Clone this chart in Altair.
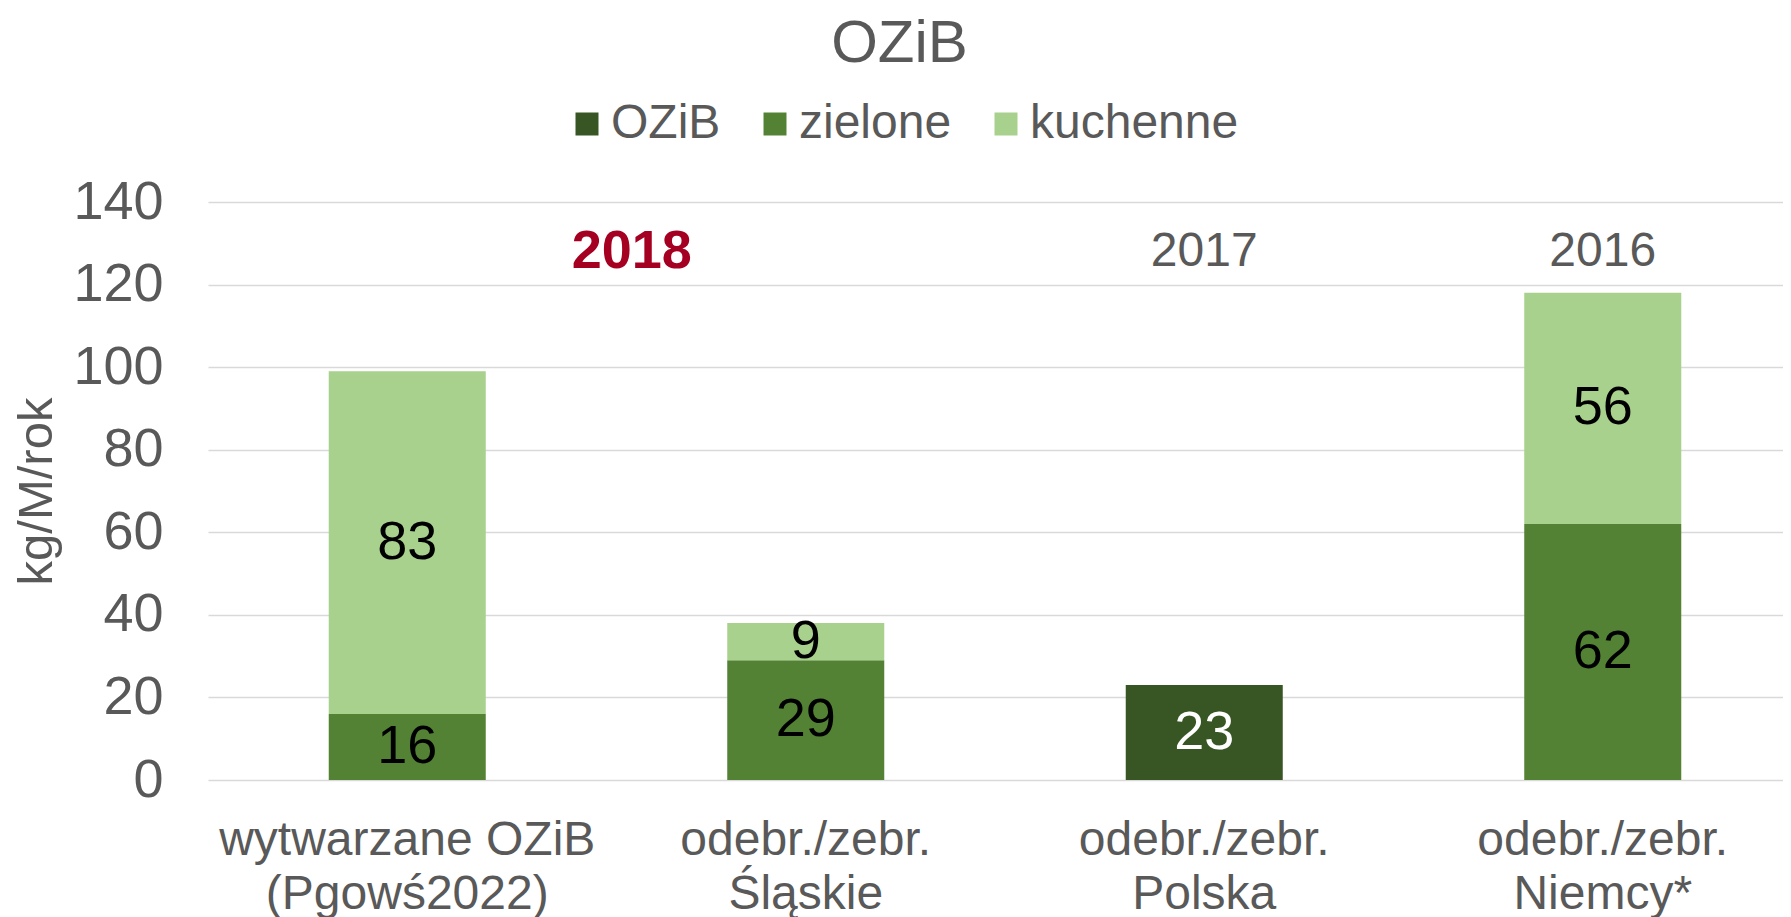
import altair as alt
import pandas as pd

FONT = "Liberation Sans"
GRAY = "#595959"

categories = ["wytwarzane OZiB\n(Pgowś2022)", "odebr./zebr.\nŚląskie",
              "odebr./zebr.\nPolska", "odebr./zebr.\nNiemcy*"]
series_names = ["OZiB", "zielone", "kuchenne"]
series_colors = ["#375623", "#548235", "#A9D18E"]
stack_order = [0, 1, 2]
ozib_vals = [None, None, 23, None]
zielone_vals = [16, 29, None, 62]
kuchenne_vals = [83, 9, None, 56]

year_main = ["2018"]
year_main_cat = [categories[1]]
year_other = ["2017", "2016"]
year_other_cat = [categories[2], categories[3]]
year_level = 128

y_ticks = [0, 20, 40, 60, 80, 100, 120, 140]

rows = []
for s, vals, o in zip(series_names, [ozib_vals, zielone_vals, kuchenne_vals], stack_order):
    for c, v in zip(categories, vals):
        if v is not None:
            rows.append({"category": c, "series": s, "value": v, "ord": o})
df = pd.DataFrame(rows)

df_main = pd.DataFrame({"category": year_main_cat, "label": year_main, "y": [year_level] * len(year_main)})
df_other = pd.DataFrame({"category": year_other_cat, "label": year_other, "y": [year_level] * len(year_other)})

x_enc = alt.X("category:N", sort=categories,
              scale=alt.Scale(range=[0, 1594], paddingInner=0.606, paddingOuter=0.303),
              axis=alt.Axis(title=None, labelExpr="split(datum.label, '\\n')", labelAngle=0,
                            labelFontSize=48, labelColor=GRAY, labelFont=FONT, ticks=False,
                            domain=False, labelPadding=36, labelLineHeight=54, labelLimit=0,
                            labelBaseline="top"))

y_scale = alt.Scale(domain=[0, 140], nice=False)

base = alt.Chart(df).transform_stack(
    stack="value", groupby=["category"], as_=["v0", "v1"], sort=[alt.SortField("ord")]
).transform_calculate(mid="(datum.v0 + datum.v1) / 2")

bars = base.mark_bar().encode(
    x=x_enc,
    y=alt.Y("v0:Q", scale=y_scale,
            axis=alt.Axis(title="kg/M/rok", values=y_ticks, grid=True, gridColor="#D9D9D9",
                          gridWidth=1.5, domain=False, ticks=False, labelFontSize=54,
                          labelColor=GRAY, labelFont=FONT, labelPadding=45,
                          titleFontSize=49, titleFontWeight="normal", titleColor=GRAY,
                          titleFont=FONT, titlePadding=11)),
    y2="v1:Q",
    color=alt.Color("series:N", scale=alt.Scale(domain=series_names, range=series_colors),
                    legend=alt.Legend(orient="none", legendX=355, legendY=-102,
                                      direction="horizontal", title=None, labelFontSize=48,
                                      labelColor=GRAY, labelFont=FONT, symbolType="square",
                                      symbolSize=529, symbolStrokeWidth=0, labelOffset=0,
                                      columnPadding=30, padding=0, labelLimit=0)),
)

labels = base.mark_text(fontSize=54, font=FONT).encode(
    x=x_enc,
    y=alt.Y("mid:Q", scale=y_scale),
    text=alt.Text("value:Q"),
    color=alt.condition("datum.series == 'OZiB'", alt.value("white"), alt.value("black")),
)

years_main = alt.Chart(df_main).mark_text(fontSize=54, font=FONT, fontWeight="bold",
                                          color="#A50021", dx=-174).encode(
    x=x_enc, y=alt.Y("y:Q", scale=y_scale), text="label:N")

years_oth = alt.Chart(df_other).mark_text(fontSize=48, font=FONT, color=GRAY).encode(
    x=x_enc, y=alt.Y("y:Q", scale=y_scale), text="label:N")

chart = alt.layer(bars, labels, years_main, years_oth).properties(
    width=1575, height=578,
    title=alt.TitleParams("OZiB", fontSize=60, color=GRAY, font=FONT, fontWeight="normal",
                          anchor="middle", offset=25, dx=-96),
    autosize=alt.AutoSizeParams(type="none"),
    padding={"left": 200, "top": 194, "right": 0, "bottom": 137},
).configure_view(stroke=None)

chart.save("out.html", embed_options={"renderer": "svg", "actions": False})
